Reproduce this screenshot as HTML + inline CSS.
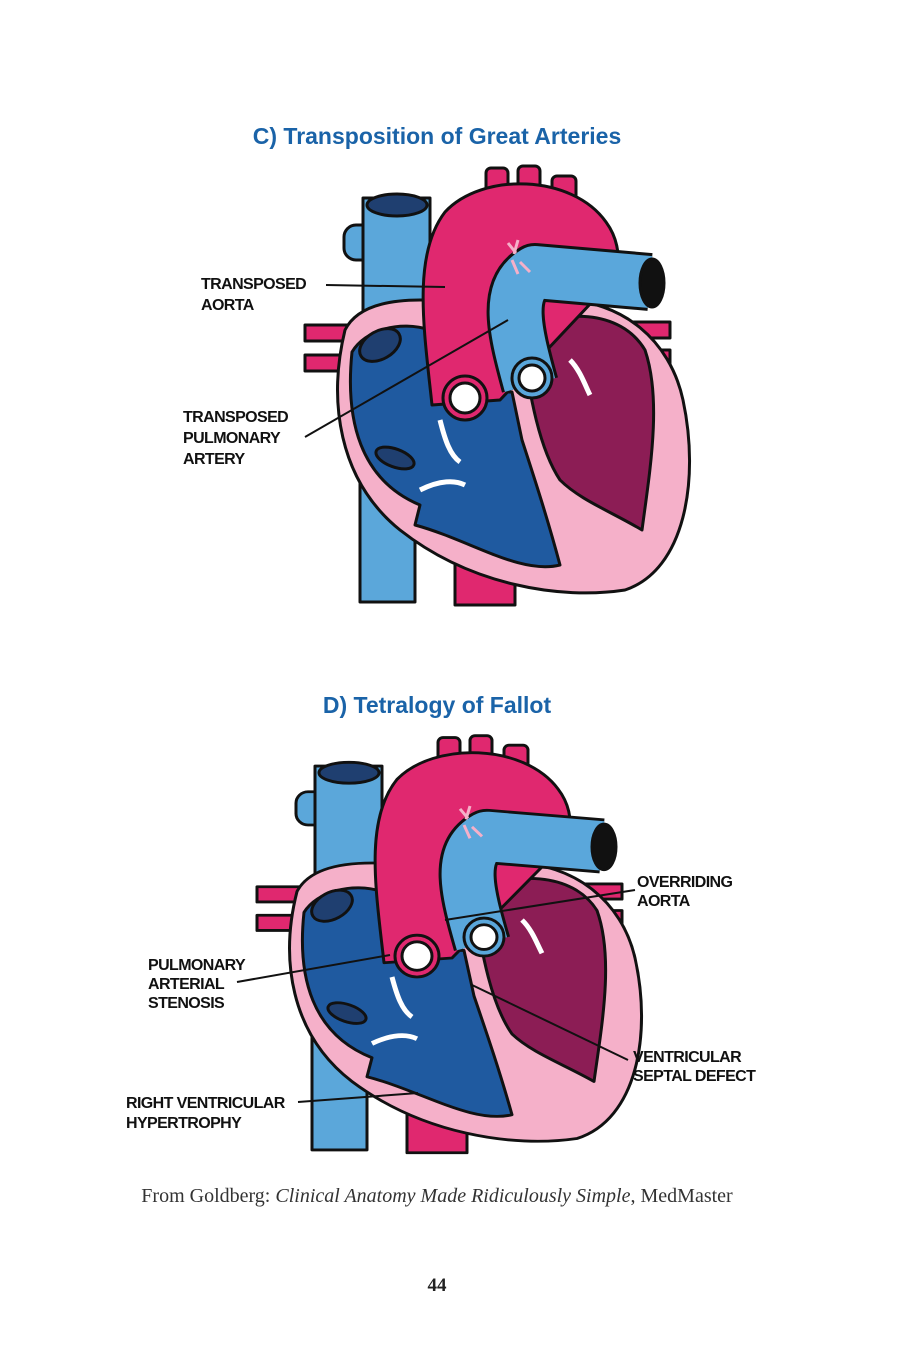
<!DOCTYPE html>
<html><head><meta charset="utf-8"><style>
html,body{margin:0;padding:0;background:#fff}
body{width:900px;height:1350px;position:relative;overflow:hidden}
svg{position:absolute;left:0;top:0}
.t{font-family:"Liberation Sans",sans-serif;font-weight:bold;fill:#1a63a8;font-size:23px}
.l{font-family:"Liberation Sans",sans-serif;font-weight:bold;font-size:16px;fill:#111;letter-spacing:-0.6px}
</style></head><body>
<svg width="900" height="1350" viewBox="0 0 900 1350">
<defs>
<g id="heart" stroke="#111" stroke-width="3" stroke-linejoin="round">
  <rect x="360" y="460" width="55" height="142" fill="#5ba7da"/>
  <rect x="455" y="545" width="60" height="60" fill="#e0286f"/>
  <rect x="305" y="325" width="45" height="16" fill="#e0286f"/>
  <rect x="305" y="355" width="45" height="16" fill="#e0286f"/>
  <rect x="625" y="322" width="45" height="16" fill="#e0286f"/>
  <rect x="625" y="350" width="45" height="16" fill="#e0286f"/>
  <rect x="344" y="225" width="30" height="35" rx="12" fill="#5ba7da"/>
  <rect x="363" y="198" width="67" height="140" fill="#5ba7da"/>
  <ellipse cx="397" cy="205" rx="30" ry="11" fill="#1f3f70"/>
  <path d="M345 330 C328 400,338 480,400 530 C470 585,560 600,625 590 C685 570,700 480,683 400 C670 340,622 300,560 300 L420 300 C380 300,355 310,345 330 Z" fill="#f5b0c9"/>
  <path d="M352 352 C345 420,360 480,420 505 L415 525 C470 540,520 575,560 565 C548 520,535 480,522 440 L512 392 L440 392 L430 330 C400 320,365 330,352 352 Z" fill="#1f5aa0"/>
  <path d="M520 330 C560 310,620 308,645 350 C662 400,650 470,642 530 C612 512,580 500,560 480 C540 450,530 400,520 330 Z" fill="#8c1d55"/>
  <ellipse cx="380" cy="345" rx="22" ry="14" fill="#1f3f70" transform="rotate(-30 380 345)"/>
  <ellipse cx="395" cy="458" rx="20" ry="9" fill="#1f3f70" transform="rotate(20 395 458)"/>
  <rect x="486" y="168" width="22" height="40" rx="5" fill="#e0286f"/>
  <rect x="518" y="166" width="22" height="40" rx="5" fill="#e0286f"/>
  <rect x="552" y="176" width="24" height="40" rx="5" fill="#e0286f"/>
  <path d="M432 405 C424 330,412 255,445 212 C482 172,572 174,606 222 C628 252,618 292,592 302 L500 400 Z" fill="#e0286f"/>
  <path d="M530 385 C515 330,505 290,535 272 L650 282" fill="none" stroke="#111" stroke-width="58"/>
  <path d="M530 385 C515 330,505 290,535 272 L650 282" fill="none" stroke="#5aa7db" stroke-width="52"/>
  <ellipse cx="652" cy="283" rx="12" ry="24" fill="#111"/>
  <path d="M508 243 l8 10 M518 240 l-4 14 M512 260 l6 14 M520 262 l10 10" stroke="#f5b0c9" stroke-width="3"/>
  <circle cx="465" cy="398" r="22" fill="#e0286f"/>
  <circle cx="465" cy="398" r="15" fill="#fff"/>
  <circle cx="532" cy="378" r="20" fill="#5aa7db"/>
  <circle cx="532" cy="378" r="13" fill="#fff"/>
  <path d="M440 420 C445 440,450 455,460 462" fill="none" stroke="#fff" stroke-width="5"/>
  <path d="M570 360 C580 370,585 385,590 395" fill="none" stroke="#fff" stroke-width="5"/>
  <path d="M420 490 C440 480,455 480,465 485" fill="none" stroke="#fff" stroke-width="5"/>
</g>
</defs>
<text class="t" x="437" y="144" text-anchor="middle">C) Transposition of Great Arteries</text>
<use href="#heart"/>
<text class="l" x="201" y="289">TRANSPOSED</text>
<text class="l" x="201" y="310">AORTA</text>
<line x1="326" y1="285" x2="445" y2="287" stroke="#111" stroke-width="2"/>
<text class="l" x="183" y="422">TRANSPOSED</text>
<text class="l" x="183" y="443">PULMONARY</text>
<text class="l" x="183" y="464">ARTERY</text>
<line x1="305" y1="437" x2="508" y2="320" stroke="#111" stroke-width="2"/>

<text class="t" x="437" y="713" text-anchor="middle">D) Tetralogy of Fallot</text>
<g transform="translate(-48,578) scale(1,0.95)"><use href="#heart"/></g>
<text class="l" x="637" y="887">OVERRIDING</text>
<text class="l" x="637" y="906">AORTA</text>
<line x1="635" y1="890" x2="445" y2="920" stroke="#111" stroke-width="2"/>
<text class="l" x="148" y="970">PULMONARY</text>
<text class="l" x="148" y="989">ARTERIAL</text>
<text class="l" x="148" y="1008">STENOSIS</text>
<line x1="237" y1="982" x2="390" y2="955" stroke="#111" stroke-width="2"/>
<text class="l" x="633" y="1062">VENTRICULAR</text>
<text class="l" x="633" y="1081">SEPTAL DEFECT</text>
<line x1="628" y1="1060" x2="472" y2="985" stroke="#111" stroke-width="2"/>
<text class="l" x="126" y="1108">RIGHT VENTRICULAR</text>
<text class="l" x="126" y="1128">HYPERTROPHY</text>
<line x1="298" y1="1102" x2="418" y2="1093" stroke="#111" stroke-width="2"/>

<text x="437" y="1202" text-anchor="middle" font-family="Liberation Serif,serif" font-size="20" fill="#333">From Goldberg: <tspan font-style="italic">Clinical Anatomy Made Ridiculously Simple</tspan>, MedMaster</text>
<text x="437" y="1291" text-anchor="middle" font-family="Liberation Serif,serif" font-size="19" font-weight="bold" fill="#222">44</text>
</svg>
</body></html>
